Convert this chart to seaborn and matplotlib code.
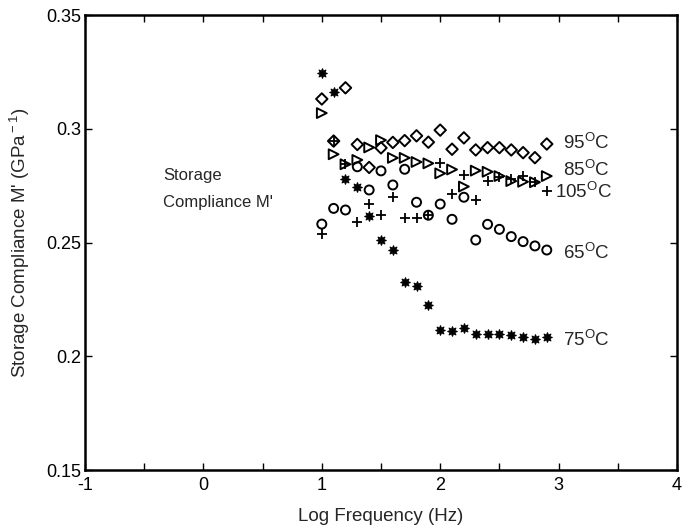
import matplotlib
matplotlib.use("Agg")
import matplotlib.pyplot as plt
import seaborn as sns
import numpy as np
import pandas as pd

# ---- data ----
log_freq = [1.0, 1.1, 1.2, 1.3, 1.4, 1.5, 1.6, 1.7, 1.8, 1.9,
            2.0, 2.1, 2.2, 2.3, 2.4, 2.5, 2.6, 2.7, 2.8, 2.9]

m_65 = [0.2581, 0.2650, 0.2643, 0.2833, 0.2731, 0.2815, 0.2753, 0.2822, 0.2677, 0.2620,
        0.2669, 0.2602, 0.2699, 0.2511, 0.2580, 0.2558, 0.2526, 0.2504, 0.2485, 0.2467]
m_75 = [0.3245, 0.3160, 0.2778, 0.2745, 0.2616, 0.2511, 0.2467, 0.2325, 0.2310, 0.2225,
        0.2115, 0.2111, 0.2126, 0.2096, 0.2096, 0.2099, 0.2093, 0.2083, 0.2076, 0.2086]
m_85 = [0.3069, 0.2888, 0.2844, 0.2863, 0.2918, 0.2950, 0.2872, 0.2872, 0.2854, 0.2848,
        0.2804, 0.2821, 0.2746, 0.2816, 0.2811, 0.2792, 0.2770, 0.2767, 0.2765, 0.2792]
m_95 = [0.3131, 0.2946, 0.3180, 0.2931, 0.2830, 0.2916, 0.2940, 0.2948, 0.2969, 0.2941,
        0.2994, 0.2910, 0.2960, 0.2907, 0.2917, 0.2917, 0.2907, 0.2895, 0.2873, 0.2933]
m_105 = [0.2537, 0.2946, 0.2844, 0.2589, 0.2668, 0.2620, 0.2698, 0.2606, 0.2606, 0.2622,
         0.2850, 0.2715, 0.2795, 0.2687, 0.2770, 0.2790, 0.2778, 0.2792, 0.2765, 0.2726]

series_names = ["65", "75", "85", "95", "105"]
series_values = [m_65, m_75, m_85, m_95, m_105]

label_x = [3.04, 3.04, 3.04, 3.04, 2.97]
label_y = [0.2454, 0.2071, 0.2818, 0.2937, 0.2722]

x_ticks = [-1, 0, 1, 2, 3, 4]
y_ticks = [0.15, 0.2, 0.25, 0.3, 0.35]
y_tick_labels = ["0.15", "0.2", "0.25", "0.3", "0.35"]

# ---- styling ----
sns.set_style("ticks")
plt.rcParams['font.family'] = ['Liberation Sans', 'DejaVu Sans']
plt.rcParams['mathtext.fontset'] = 'custom'
plt.rcParams['mathtext.rm'] = 'Liberation Sans'
plt.rcParams['mathtext.it'] = 'Liberation Sans'
plt.rcParams['mathtext.bf'] = 'Liberation Sans'

fig = plt.figure(figsize=(6.82, 5.29), dpi=100)
ax = fig.add_axes([0.1246, 0.1115, 0.8681, 0.8601])

star = (8, 1, 0)
styles = {
    "65":  dict(marker="o", s=42, facecolors="none", edgecolors="black", linewidths=1.4),
    "75":  dict(marker=star, s=48, color="black", edgecolors="black", linewidths=0.8),
    "85":  dict(marker=">", s=50, facecolors="none", edgecolors="black", linewidths=1.4),
    "95":  dict(marker="D", s=34, facecolors="none", edgecolors="black", linewidths=1.4),
    "105": dict(marker="+", s=50, color="black", linewidths=1.3),
}

for name, vals in zip(series_names, series_values):
    df = pd.DataFrame({"logf": log_freq, "M": vals})
    sns.scatterplot(data=df, x="logf", y="M", ax=ax, legend=False, **styles[name])

for name, lx, ly in zip(series_names, label_x, label_y):
    ax.text(lx, ly, r"$\mathrm{" + name + r"^{O}C}$", fontsize=13.5,
            va="center", ha="left")

ax.text(-0.34, 0.2795, "Storage", fontsize=12, va="center", ha="left")
ax.text(-0.34, 0.2677, "Compliance M'", fontsize=12, va="center", ha="left")

ax.set_xlim(-1, 4)
ax.set_ylim(0.15, 0.35)
ax.set_xticks(x_ticks)
ax.set_xticklabels([str(t) for t in x_ticks])
ax.set_xticks(np.arange(-0.5, 4, 1.0), minor=True)
ax.set_yticks(y_ticks)
ax.set_yticklabels(y_tick_labels)

for side in ["top", "right", "left", "bottom"]:
    ax.spines[side].set_visible(True)
    ax.spines[side].set_linewidth(1.8)
    ax.spines[side].set_color("black")

ax.tick_params(axis="both", which="both", direction="in", top=True, right=True,
               labelsize=13, colors="black", width=1.0)
ax.tick_params(axis="both", which="major", length=5)
ax.tick_params(axis="x", which="minor", length=5)
ax.tick_params(axis="x", pad=5)
ax.tick_params(axis="y", pad=3)

ax.set_xlabel("Log Frequency (Hz)", fontsize=13.5, labelpad=10)
ax.set_ylabel(r"Storage Compliance M' (GPa$^{\rm -1}$)", fontsize=13.5, labelpad=10)

fig.savefig("out.png", dpi=100, facecolor="white")
